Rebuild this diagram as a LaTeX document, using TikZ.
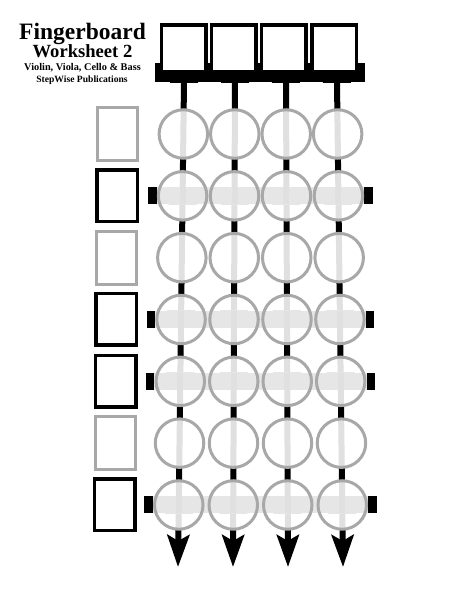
\documentclass[tikz,border=0pt]{standalone}
\usepackage{fontspec}
\setmainfont{Liberation Serif}
\usetikzlibrary{arrows.meta}
\definecolor{ringgray}{HTML}{A8A8A8}
\definecolor{bandgray}{HTML}{E6E6E6}
\definecolor{strlight}{HTML}{E0E0E0}
\begin{document}
\begin{tikzpicture}[x=1pt,y=-1pt,
  declare function={sx(\i,\y)=260.5+(\i-1.5)*(51+4*(\y-82)/485);},
  ring/.style={draw=ringgray, line width=3pt},
  boxgray/.style={draw=ringgray, line width=3pt, fill=white, minimum width=40pt, minimum height=53pt, inner sep=0pt},
  boxblack/.style={draw=black, line width=3.5pt, fill=white, minimum width=40.5pt, minimum height=51.5pt, inner sep=0pt},
  topsq/.style={draw=black, line width=3.5pt, fill=white, minimum width=44.5pt, minimum height=46.5pt, inner sep=0pt},
  stringline/.style={line width=6pt, -{Stealth[length=32pt,width=22pt,inset=6pt]}},
  holefill/.style={circle, fill=white, fill opacity=0.88, minimum size=48.5pt, inner sep=0pt},
  titletext/.style={anchor=base, inner sep=0pt, font=\bfseries}
]
\useasboundingbox (0,0) rectangle (453,589);
\fill[white] (0,0) rectangle (453,589);

% nut bar
\fill[black] (155,63) rectangle (365,82);
\foreach \i in {0,...,3}{
  \shade[left color=black, middle color=white, right color=black]
    ({sx(\i,78)-14},73) rectangle ({sx(\i,78)+14},82);
}

% strings
\foreach \i in {0,...,3}{
  \coordinate (t\i) at ({sx(\i,72)},72);
  \coordinate (e\i) at ({sx(\i,567)},567);
  \draw[stringline] (t\i) -- (e\i);
}

% top squares
\foreach \i in {0,...,3}{
  \node[topsq] (s\i) at ({183.5+50.2*\i},48) {};
}

% circle fills
\foreach \k in {0,...,6}{
  \pgfmathsetmacro{\yy}{134+61.83*\k}
  \foreach \i in {0,...,3}{
    \node[holefill] (c\k\i) at ({sx(\i,\yy)},\yy) {};
  }
}

% fret bars
\foreach \k in {1,3,4,6}{
  \pgfmathsetmacro{\yy}{134+61.83*\k}
  \fill[bandgray] ({sx(0,\yy)-26},{\yy-8.5}) rectangle ({sx(3,\yy)+26},{\yy+8.5});
  \foreach \i in {0,...,3}{
    \shade[left color=bandgray, middle color=white, right color=bandgray]
      ({sx(\i,\yy)-14},{\yy-8.5}) rectangle ({sx(\i,\yy)+14},{\yy+8.5});
    \draw[line width=6pt, strlight] ({sx(\i,\yy)},{\yy-8.5}) -- ({sx(\i,\yy)},{\yy+8.5});
  }
  \fill[black] ({sx(0,\yy)-34.5},{\yy-8.5}) rectangle ({sx(0,\yy)-26},{\yy+8.5});
  \fill[black] ({sx(3,\yy)+26},{\yy-8.5}) rectangle ({sx(3,\yy)+34.5},{\yy+8.5});
}

% circle outlines
\foreach \k in {0,...,6}{
  \foreach \i in {0,...,3}{
    \draw[ring] (c\k\i.center) circle[radius=24.25pt];
  }
}

% left boxes
\foreach \k/\st in {0/boxgray,1/boxblack,2/boxgray,3/boxblack,4/boxblack,5/boxgray,6/boxblack}{
  \pgfmathsetmacro{\yy}{134+61.83*\k}
  \node[\st] (b\k) at ({117.5-0.5*\k},\yy) {};
}

% titles
\node[titletext, font=\bfseries\fontsize{23.5}{24}\selectfont] (title) at (82.5,39) {Fingerboard};
\node[titletext, font=\bfseries\fontsize{18.6}{19}\selectfont] (sub) at (82.5,57) {Worksheet 2};
\node[titletext, font=\bfseries\fontsize{10.3}{11}\selectfont] (instr) at (82.5,70) {Violin, Viola, Cello \& Bass};
\node[titletext, font=\bfseries\fontsize{9.6}{10}\selectfont] (pub) at (82,82) {StepWise Publications};
\end{tikzpicture}
\end{document}
